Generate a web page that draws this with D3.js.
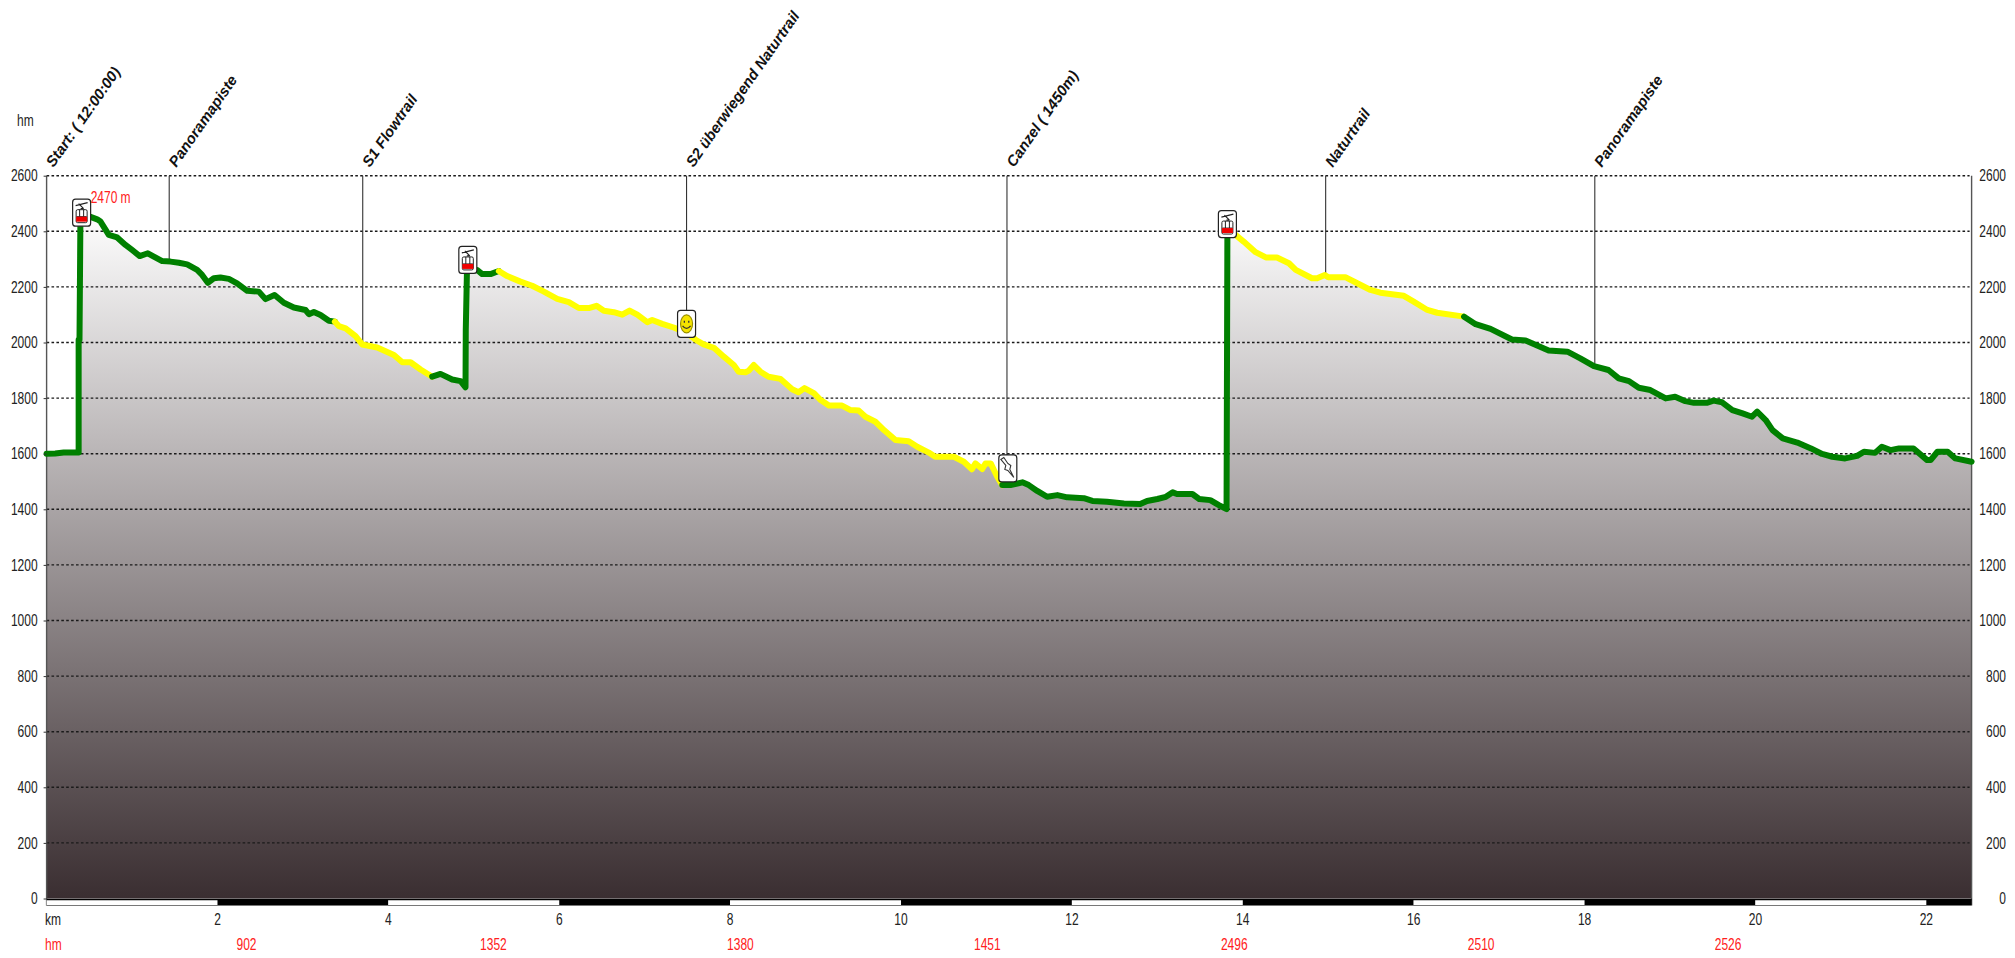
<!DOCTYPE html>
<html>
<head>
<meta charset="utf-8">
<title>Höhenprofil</title>
<script src="https://d3js.org/d3.v7.min.js"></script>
<style>
    body { margin: 0; background: white; }
    text { font-family: "Liberation Sans", Arial, sans-serif; font-size: 16px; fill: #222; }
    .marker-label { font-weight: bold; font-style: italic; font-size: 15px; fill: #111; }
    .red { fill: #ff2020; }
    .grid { stroke: #1a1a1a; stroke-width: 1.4px; stroke-dasharray: 2.6 2.3; }
    .axis path { display: none; }
    .axis line { stroke: #333; }
</style>
</head>
<body>
<svg id="chart" width="2015" height="958"></svg>
<script>
    // profile: distance in km, height in m
    var profileKm = [0, 0.1, 0.2, 0.375, 0.375, 0.385, 0.396, 0.514, 0.592, 0.631, 0.728, 0.826, 0.923, 1.0, 1.09, 1.185, 1.255, 1.353, 1.45, 1.548, 1.645, 1.762, 1.82, 1.887, 1.957, 2.035, 2.133, 2.23, 2.348, 2.484, 2.562, 2.668, 2.777, 2.894, 3.03, 3.07, 3.128, 3.206, 3.304, 3.374, 3.42, 3.5, 3.616, 3.694, 3.87, 4.065, 4.163, 4.26, 4.377, 4.513, 4.61, 4.747, 4.845, 4.903, 4.906, 4.92, 5.04, 5.098, 5.195, 5.293, 5.39, 5.546, 5.683, 5.82, 5.976, 6.112, 6.229, 6.346, 6.436, 6.522, 6.639, 6.737, 6.823, 6.913, 7.03, 7.088, 7.205, 7.34, 7.497, 7.595, 7.69, 7.81, 7.926, 8.043, 8.1, 8.18, 8.22, 8.277, 8.355, 8.45, 8.59, 8.726, 8.80, 8.87, 8.98, 9.06, 9.156, 9.31, 9.41, 9.506, 9.584, 9.70, 9.80, 9.935, 10.09, 10.19, 10.325, 10.40, 10.62, 10.735, 10.83, 10.87, 10.95, 10.99, 11.05, 11.126, 11.185, 11.28, 11.42, 11.495, 11.594, 11.71, 11.83, 11.945, 12.14, 12.24, 12.41, 12.61, 12.80, 12.88, 13.0, 13.1, 13.18, 13.23, 13.41, 13.49, 13.62, 13.72, 13.81, 13.815, 13.82, 13.915, 14.01, 14.15, 14.27, 14.40, 14.54, 14.62, 14.81, 14.87, 14.96, 15.0, 15.2, 15.34, 15.495, 15.61, 15.885, 16.0, 16.16, 16.275, 16.59, 16.725, 16.9, 17.15, 17.31, 17.58, 17.80, 17.95, 18.11, 18.28, 18.40, 18.52, 18.635, 18.77, 18.95, 19.06, 19.18, 19.28, 19.43, 19.51, 19.61, 19.73, 19.85, 19.96, 20.02, 20.12, 20.2, 20.32, 20.49, 20.65, 20.78, 20.9, 21.05, 21.19, 21.27, 21.40, 21.48, 21.58, 21.68, 21.85, 22.01, 22.05, 22.13, 22.25, 22.34, 22.53];
    var profileM = [1600, 1601, 1604, 1604, 2010, 2010, 2452, 2452, 2443, 2435, 2387, 2378, 2351, 2333, 2311, 2321, 2309, 2293, 2291, 2287, 2281, 2261, 2243, 2215, 2231, 2234, 2229, 2213, 2186, 2183, 2156, 2171, 2143, 2126, 2117, 2102, 2110, 2099, 2078, 2075, 2059, 2051, 2023, 1993, 1982, 1955, 1929, 1929, 1903, 1877, 1887, 1867, 1861, 1839, 2045, 2260, 2261, 2246, 2246, 2257, 2239, 2219, 2204, 2183, 2157, 2145, 2124, 2124, 2132, 2114, 2109, 2100, 2115, 2100, 2073, 2081, 2067, 2054, 2034, 2010, 1993, 1981, 1949, 1919, 1895, 1893, 1899, 1919, 1895, 1877, 1869, 1832, 1821, 1836, 1818, 1793, 1773, 1773, 1757, 1755, 1733, 1715, 1685, 1649, 1645, 1625, 1604, 1589, 1589, 1571, 1544, 1565, 1545, 1565, 1565, 1517, 1487, 1487, 1497, 1487, 1466, 1445, 1451, 1443, 1440, 1430, 1427, 1421, 1419, 1430, 1437, 1445, 1461, 1455, 1455, 1437, 1433, 1415, 1401, 1900, 2405, 2387, 2363, 2325, 2306, 2306, 2285, 2261, 2231, 2231, 2243, 2235, 2235, 2213, 2189, 2179, 2168, 2147, 2117, 2107, 2093, 2066, 2049, 2011, 2007, 1971, 1967, 1943, 1915, 1901, 1871, 1861, 1837, 1829, 1799, 1805, 1789, 1783, 1783, 1791, 1785, 1757, 1745, 1733, 1751, 1721, 1685, 1655, 1640, 1619, 1599, 1589, 1583, 1592, 1607, 1603, 1625, 1613, 1619, 1619, 1577, 1577, 1607, 1607, 1583, 1571];

    // stretches of the trail: the km where each colour ends
    var surfaceEnds = [3.374, 4.513, 5.293, 11.185, 13.82, 16.59, 22.53];
    var surfaceColors = ["#008000", "#ffff00", "#008000", "#ffff00", "#008000", "#ffff00", "#008000"];

    var markerLabels = ["Start: ( 12:00:00)", "Panoramapiste", "S1 Flowtrail", "S2 überwiegend Naturtrail", "Canzel ( 1450m)", "Naturtrail", "Panoramapiste"];
    var markerKm = [0, 1.435, 3.70, 7.49, 11.24, 14.97, 18.12];

    var iconTypes = ["gondola", "gondola", "smiley", "pin", "gondola"];
    var iconKm = [0.41, 4.93, 7.49, 11.25, 13.82];
    var iconM = [2467, 2297, 2067, 1547, 2426];

    var yTicks = d3.range(0, 2601, 200);
    var kmTicks = [2, 4, 6, 8, 10, 12, 14, 16, 18, 20, 22];
    var kmBarEdges = [0, 2, 4, 6, 8, 10, 12, 14, 16, 18, 20, 22, 22.53];
    var hmLabels = ["902", "1352", "1380", "1451", "2496", "2510", "2526"];
    var hmKm = [2.34, 5.23, 8.12, 11.01, 13.9, 16.79, 19.68];

    var x = d3.scaleLinear().domain([0, 22.53]).range([46.6, 1971.6]);
    var y = d3.scaleLinear().domain([0, 2600]).range([898.5, 175.7]);

    var svg = d3.select("#chart");
    var profile = profileKm.map(function (km, i) { return { km: km, m: profileM[i] }; });

    function heightAt(km) {
        var i = d3.bisector(function (d) { return d.km; }).left(profile, km);
        if (i <= 0) return profile[0].m;
        var a = profile[i - 1], b = profile[i];
        return a.m + (b.m - a.m) * (km - a.km) / (b.km - a.km);
    }

    // the original text is tall and narrow, squeeze it around its own anchor
    function narrow(sel) {
        sel.each(function () {
            var t = d3.select(this);
            var tx = +t.attr("x") || 0, ty = +t.attr("y") || 0;
            t.attr("x", 0).attr("y", 0)
                .attr("transform", "translate(" + tx + "," + ty + ") scale(0.75,1)");
        });
    }

    // area gradient
    var grad = svg.append("defs").append("linearGradient")
        .attr("id", "fade")
        .attr("gradientUnits", "userSpaceOnUse")
        .attr("x1", 0).attr("x2", 0)
        .attr("y1", y(2480)).attr("y2", y(0));
    grad.append("stop").attr("offset", 0).attr("stop-color", "#ffffff");
    grad.append("stop").attr("offset", 1).attr("stop-color", "#3a2e31");

    var area = d3.area()
        .x(function (d) { return x(d.km); })
        .y0(y(0))
        .y1(function (d) { return y(d.m); });

    svg.append("path").datum(profile).attr("d", area).attr("fill", "url(#fade)");

    // grid
    svg.append("g").selectAll("line")
        .data(yTicks.slice(1))
        .join("line")
        .attr("class", "grid")
        .attr("x1", x(0)).attr("x2", x(22.53) - 2)
        .attr("y1", function (d) { return y(d); })
        .attr("y2", function (d) { return y(d); });

    // frame
    svg.append("line").attr("x1", x(0)).attr("x2", x(0)).attr("y1", y(2600)).attr("y2", 905.5).attr("stroke", "#555").attr("stroke-width", 1.4);
    svg.append("line").attr("x1", x(22.53)).attr("x2", x(22.53)).attr("y1", y(2600)).attr("y2", 905.5).attr("stroke", "#555").attr("stroke-width", 1.4);

    // marker lines
    svg.append("g").selectAll("line")
        .data(markerKm.slice(1))
        .join("line")
        .attr("x1", function (d) { return x(d); })
        .attr("x2", function (d) { return x(d); })
        .attr("y1", y(2600))
        .attr("y2", function (d) { return y(heightAt(d)); })
        .attr("stroke", "#333")
        .attr("stroke-width", 1.1);

    // km bar
    var barData = d3.pairs(kmBarEdges);
    svg.append("g").selectAll("rect")
        .data(barData)
        .join("rect")
        .attr("x", function (d) { return x(d[0]); })
        .attr("width", function (d) { return x(d[1]) - x(d[0]); })
        .attr("y", 899.5)
        .attr("height", 5.5)
        .attr("fill", function (d, i) { return i % 2 ? "#000" : "#fff"; });
    svg.append("line").attr("x1", x(0)).attr("x2", x(22.53)).attr("y1", 899.5).attr("y2", 899.5).attr("stroke", "#000").attr("stroke-width", 1.4);
    svg.append("line").attr("x1", x(0)).attr("x2", x(22.53)).attr("y1", 905.5).attr("y2", 905.5).attr("stroke", "#777").attr("stroke-width", 1);

    // trail, one path per surface
    var line = d3.line()
        .x(function (d) { return x(d.km); })
        .y(function (d) { return y(d.m); })
        .curve(d3.curveLinear);

    surfaceEnds.forEach(function (end, i) {
        var start = i ? surfaceEnds[i - 1] : 0;
        var part = profile.filter(function (d) { return d.km >= start && d.km <= end; });
        svg.append("path").datum(part)
            .attr("d", line)
            .attr("fill", "none")
            .attr("stroke", surfaceColors[i])
            .attr("stroke-width", 6)
            .attr("stroke-linejoin", "round")
            .attr("stroke-linecap", "round");
    });

    // icons
    var icons = svg.append("g").selectAll("g")
        .data(iconTypes)
        .join("g")
        .attr("transform", function (d, i) { return "translate(" + x(iconKm[i]) + "," + y(iconM[i]) + ")"; });

    icons.append("rect")
        .attr("x", -9).attr("y", -13.5).attr("width", 18).attr("height", 27).attr("rx", 3)
        .attr("fill", "white").attr("stroke", "#222").attr("stroke-width", 1.2);

    var gondola = icons.filter(function (d) { return d === "gondola"; });
    gondola.append("path").attr("d", "M-6,-7 L6,-10 M-3,-9 L2,-4 M-1,-4 H2").attr("stroke", "#222").attr("fill", "none").attr("stroke-width", 1.2);
    gondola.append("rect").attr("x", -5.5).attr("y", -3).attr("width", 11).attr("height", 13).attr("rx", 1.5).attr("fill", "white").attr("stroke", "#222").attr("stroke-width", 1);
    gondola.append("path").attr("d", "M-2,-3 V4 M2,-3 V4 M-5,4 H5").attr("stroke", "#222").attr("fill", "none");
    gondola.append("rect").attr("x", -5.5).attr("y", 4).attr("width", 11).attr("height", 5).attr("fill", "#f00000");

    var smiley = icons.filter(function (d) { return d === "smiley"; });
    smiley.append("ellipse").attr("rx", 6).attr("ry", 9).attr("fill", "#f5e400").attr("stroke", "#9a9000").attr("stroke-width", 1.2);
    smiley.append("path").attr("d", "M-2.2,-3 V-1 M2.2,-3 V-1 M-4,2 Q0,7 4,2").attr("stroke", "#333").attr("fill", "none").attr("stroke-width", 1.3);

    var pin = icons.filter(function (d) { return d === "pin"; });
    pin.append("path").attr("d", "M-7,-9 L-4,-11 L0,-5 L3,-3 L2,1 L6,9 L0,2 L-3,1 L-2,-3 Z").attr("fill", "white").attr("stroke", "#333").attr("stroke-width", 1.1);

    // marker labels
    svg.append("g").selectAll("text")
        .data(markerLabels)
        .join("text")
        .attr("class", "marker-label")
        .attr("transform", function (d, i) { return "translate(" + (x(markerKm[i]) + 7) + ",168) rotate(-55)"; })
        .text(function (d) { return d; });

    // y axes
    var left = svg.append("g").attr("class", "axis").attr("transform", "translate(" + x(0) + ",0)")
        .call(d3.axisLeft(y).tickValues(yTicks).tickSize(3).tickPadding(6).tickFormat(d3.format("d")));
    var right = svg.append("g").attr("class", "axis").attr("transform", "translate(2006,0)")
        .call(d3.axisLeft(y).tickValues(yTicks).tickSize(0).tickPadding(0).tickFormat(d3.format("d")));
    svg.selectAll(".axis").attr("font-size", null).attr("font-family", null);
    narrow(svg.selectAll(".axis text"));

    // km axis labels
    var kmText = svg.append("g").selectAll("text")
        .data(kmTicks)
        .join("text")
        .attr("x", function (d) { return x(d); })
        .attr("y", 925)
        .attr("text-anchor", "middle")
        .text(function (d) { return d; });

    var hmText = svg.append("g").selectAll("text")
        .data(hmLabels)
        .join("text")
        .attr("class", "red")
        .attr("x", function (d, i) { return x(hmKm[i]); })
        .attr("y", 950)
        .attr("text-anchor", "middle")
        .text(function (d) { return d; });

    var kmTitle = svg.append("text").attr("x", 45).attr("y", 925).text("km");
    var hmTitle = svg.append("text").attr("class", "red").attr("x", 45).attr("y", 950).text("hm");
    var yTitle = svg.append("text").attr("x", 17).attr("y", 125.5).text("hm");
    var peak = svg.append("text").attr("class", "red").attr("x", x(iconKm[0]) + 9).attr("y", y(iconM[0]) - 10).text("2470 m");

    [kmText, hmText, kmTitle, hmTitle, yTitle, peak].forEach(narrow);
</script>
</body>
</html>
